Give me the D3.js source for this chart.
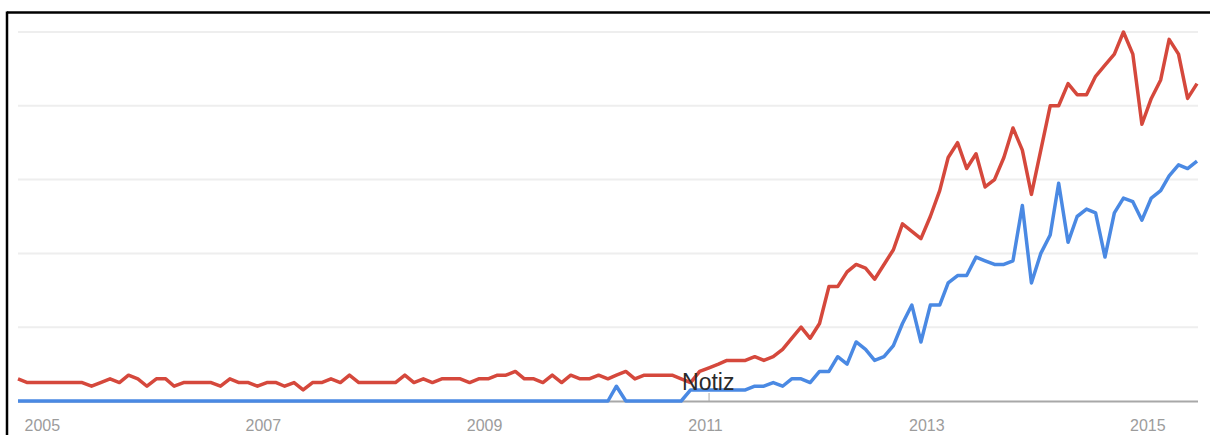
<!DOCTYPE html>
<html>
<head>
<meta charset="utf-8">
<script src="https://cdn.jsdelivr.net/npm/d3@7/dist/d3.min.js"></script>
<style>
  html, body { margin: 0; padding: 0; background: #fff; }
  svg { display: block; }
</style>
</head>
<body>
<svg id="chart" width="1210" height="435"></svg>
<script>
// ---- data (monthly, Oct 2004 – Jun 2015) ----
const startMonth = "2004-10";
const redSeries = [
  6,5,5,5,5,5,5,5,4,5, 6,5,7,6,4,6,6,4,5,5,
  5,5,4,6,5,5,4,5,5,4, 5,3,5,5,6,5,7,5,5,5,
  5,5,7,5,6,5,6,6,6,5, 6,6,7,7,8,6,6,5,7,5,
  7,6,6,7,6,7,8,6,7,7, 7,7,6,5,8,9,10,11,11,11,
  12,11,12,14,17,20,17,21,31,31, 35,37,36,33,37,41,48,46,44,50,
  57,66,70,63,67,58,60,66,74,68, 56,68,80,80,86,83,83,88,91,94,
  100,94,75,82,87,98,94,82,86
];
const blueSeries = [
  0,0,0,0,0,0,0,0,0,0, 0,0,0,0,0,0,0,0,0,0,
  0,0,0,0,0,0,0,0,0,0, 0,0,0,0,0,0,0,0,0,0,
  0,0,0,0,0,0,0,0,0,0, 0,0,0,0,0,0,0,0,0,0,
  0,0,0,0,0,4,0,0,0,0, 0,0,0,3,3,3,3,3,3,3,
  4,4,5,4,6,6,5,8,8,12, 10,16,14,11,12,15,21,26,16,26,
  26,32,34,34,39,38,37,37,38,53, 32,40,45,59,43,50,52,51,39,51,
  55,54,49,55,57,61,64,63,65
];
const tickYears = [2005, 2007, 2009, 2011, 2013, 2015];
const tickLabels = ["2005", "2007", "2009", "2011", "2013", "2015"];
const gridValues = [20, 40, 60, 80, 100];
const annotation = { label: "Notiz", date: "2011-01" };

(function () {
  const parse = d3.timeParse("%Y-%m");
  const start = parse(startMonth);
  const months = redSeries.map((_, i) => d3.timeMonth.offset(start, i));

  const svg = d3.select("#chart");
  const H = 435;
  const mLeft = 18, mRight = 1197, mTop = 32, mBottom = 401;

  const x = d3.scaleTime()
    .domain([months[0], months[months.length - 1]])
    .range([mLeft, mRight]);
  const y = d3.scaleLinear().domain([0, 100]).range([mBottom, mTop]);

  // frame (top and left border)
  svg.append("line").attr("x1", 7).attr("x2", 1210).attr("y1", 12.5).attr("y2", 12.5)
    .attr("stroke", "#000").attr("stroke-width", 2.5);
  svg.append("line").attr("x1", 7).attr("x2", 7).attr("y1", 11.5).attr("y2", H)
    .attr("stroke", "#000").attr("stroke-width", 2.5);

  // gridlines
  svg.append("g").selectAll("line").data(gridValues).join("line")
    .attr("x1", mLeft).attr("x2", mRight + 1)
    .attr("y1", d => y(d)).attr("y2", d => y(d))
    .attr("stroke", "#eeeeee").attr("stroke-width", 2);

  // x axis
  const xAxis = d3.axisBottom(x)
    .tickValues(tickYears.map(yr => new Date(yr, 0, 1)))
    .tickFormat((d, i) => tickLabels[i])
    .tickSize(0)
    .tickPadding(0);
  const gx = svg.append("g").attr("transform", `translate(0,${mBottom})`).call(xAxis);
  gx.select(".domain").remove();
  gx.selectAll("text")
    .attr("dy", 0).attr("y", 30).attr("dx", -4)
    .attr("fill", "#9c9c9c")
    .style("font-family", "'Liberation Sans', Arial, sans-serif")
    .style("font-size", "16px");

  svg.append("line")
    .attr("x1", mLeft).attr("x2", mRight + 1)
    .attr("y1", mBottom + 0.5).attr("y2", mBottom + 0.5)
    .attr("stroke", "#a8a8a8").attr("stroke-width", 2);

  // annotation tick
  const ax = x(parse(annotation.date));
  svg.append("line").attr("x1", ax).attr("x2", ax).attr("y1", mBottom - 8).attr("y2", mBottom)
    .attr("stroke", "#aaaaaa").attr("stroke-width", 1);

  // lines
  const line = d3.line().x((d, i) => x(months[i])).y(d => y(d));
  svg.append("path").datum(redSeries).attr("d", line)
    .attr("fill", "none").attr("stroke", "#d5483c").attr("stroke-width", 3.5)
    .attr("stroke-linejoin", "round");
  svg.append("path").datum(blueSeries).attr("d", line)
    .attr("fill", "none").attr("stroke", "#4a89e3").attr("stroke-width", 3.5)
    .attr("stroke-linejoin", "round");

  // annotation label
  svg.append("text")
    .attr("x", ax - 27).attr("y", mBottom - 11)
    .attr("fill", "#2a2a2a")
    .style("font-family", "'Liberation Sans', Arial, sans-serif")
    .style("font-size", "23px")
    .text(annotation.label);
})();
</script>
</body>
</html>
